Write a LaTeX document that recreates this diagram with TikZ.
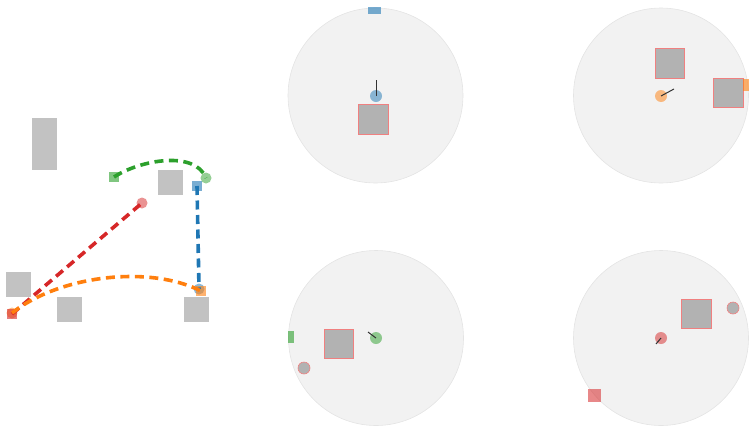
\documentclass[tikz,border=0pt]{standalone}
\definecolor{tblue}{HTML}{1F77B4}
\definecolor{torange}{HTML}{FF7F0E}
\definecolor{tgreen}{HTML}{2CA02C}
\definecolor{tred}{HTML}{D62728}
\definecolor{obs}{HTML}{C2C2C2}
\definecolor{obsin}{HTML}{B2B2B2}
\definecolor{obsedge}{HTML}{F08080}
\definecolor{disc}{HTML}{F2F2F2}
\definecolor{discedge}{HTML}{E4E4E4}
\begin{document}
\begin{tikzpicture}[x=1pt,y=-1pt,
  sqmark/.style={rectangle,minimum size=10pt,inner sep=0pt,fill opacity=0.6},
  cmark/.style={circle,minimum size=11pt,inner sep=0pt,fill opacity=0.5},
  path/.style={line width=3.6pt,dash pattern=on 9pt off 5.5pt},
  obsbox/.style={fill=obs},
  obsbox2/.style={fill=obsin,draw=obsedge,line width=0.6pt},
  discbg/.style={circle,fill=disc,draw=discedge,line width=0.6pt,minimum size=175pt,inner sep=0pt},
  heading/.style={draw=black!80,line width=1pt}]
\useasboundingbox (0,0) rectangle (749,426);
% ---------- left panel ----------
\fill[obsbox] (32,118) rectangle (57,170);
\fill[obsbox] (158,170) rectangle (183,195);
\fill[obsbox] (6,272) rectangle (31,297);
\fill[obsbox] (57,297) rectangle (82,322);
\fill[obsbox] (184,297) rectangle (209,322);
\node[sqmark,fill=tgreen] (gs) at (114,177) {};
\node[cmark,fill=tgreen] (gg) at (206,178) {};
\node[sqmark,fill=tblue] (bs) at (197,186) {};
\node[cmark,fill=tblue] (bg) at (199,289) {};
\node[cmark,fill=tred] (rg) at (142,203) {};
\node[sqmark,fill=torange] (os) at (201,291) {};
\node[cmark,fill=torange] (og) at (12,313) {};
\node[sqmark,fill=tred] (rs) at (12,314) {};
\draw[path,tgreen] (gs.center) .. controls (140,160) and (195,150) .. (gg.center);
\draw[path,tblue] (bs.center) -- (bg.center);
\draw[path,tred] (rs.center) -- (rg.center);
\draw[path,torange] (og.center) .. controls (60,275) and (150,265) .. (os.center);
% ---------- disc 1 (blue) ----------
\node[discbg] (d1) at (375.5,95.5) {};
\fill[obsbox2] (358,104) rectangle (388,134);
\node[rectangle,minimum width=13pt,minimum height=7pt,inner sep=0pt,fill=tblue,fill opacity=0.6] (b1) at (374.5,10) {};
\node[cmark,fill=tblue,minimum size=12pt] (a1) at (376,96) {};
\coordinate (h1) at (376,80);
\draw[heading] (a1.center) -- (h1);
% ---------- disc 2 (orange) ----------
\node[discbg] (d2) at (661,95.5) {};
\fill[obsbox2] (655,48) rectangle (684,78);
\fill[obsbox2] (713,78) rectangle (743,107);
\node[rectangle,minimum width=7pt,minimum height=12pt,inner sep=0pt,fill=torange,fill opacity=0.6] (o2) at (746.5,85) {};
\node[cmark,fill=torange,minimum size=12pt] (a2) at (661,96) {};
\coordinate (h2) at (674,89);
\draw[heading] (a2.center) -- (h2);
% ---------- disc 3 (green) ----------
\node[discbg] (d3) at (376,338) {};
\fill[obsbox2] (324,329) rectangle (353,358);
\node[rectangle,minimum width=6pt,minimum height=12pt,inner sep=0pt,fill=tgreen,fill opacity=0.6] (g3) at (291,337) {};
\node[circle,minimum size=12pt,inner sep=0pt,fill=obsin,draw=obsedge,line width=0.6pt] (c3) at (304,368) {};
\node[cmark,fill=tgreen,minimum size=12pt] (a3) at (376,338) {};
\coordinate (h3) at (368,332);
\draw[heading] (a3.center) -- (h3);
% ---------- disc 4 (red) ----------
\node[discbg] (d4) at (661,338) {};
\fill[obsbox2] (681,299) rectangle (711,328);
\node[circle,minimum size=12pt,inner sep=0pt,fill=obsin,draw=obsedge,line width=0.6pt] (c4) at (733,308) {};
\node[rectangle,minimum size=13pt,inner sep=0pt,fill=tred,fill opacity=0.55] (r4) at (594.5,395.5) {};
\node[cmark,fill=tred,minimum size=12pt] (a4) at (661,338) {};
\coordinate (h4) at (656,344);
\draw[heading] (a4.center) -- (h4);
\end{tikzpicture}
\end{document}
